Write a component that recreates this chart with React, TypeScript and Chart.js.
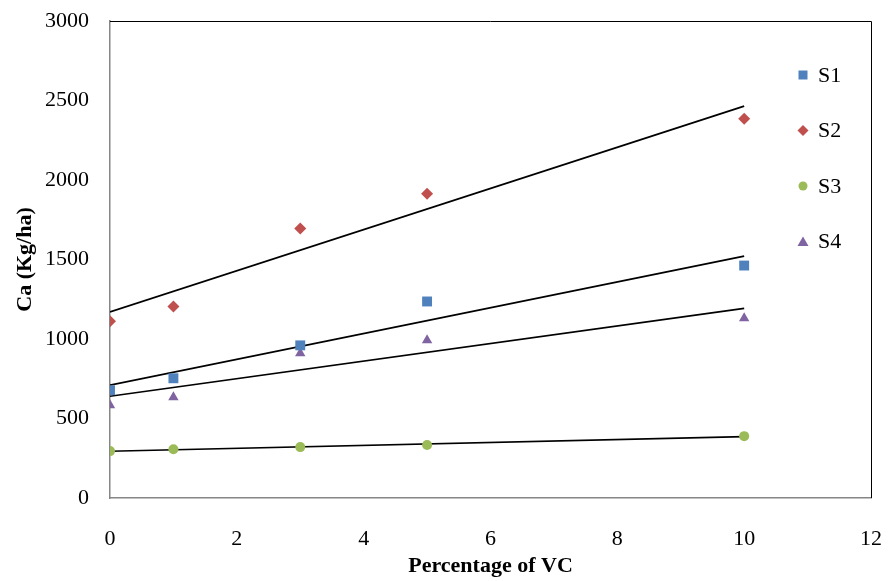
import React, { useEffect, useRef } from "react";
import { Chart, registerables } from "chart.js";

Chart.register(...registerables);

const xValues = [0, 1, 3, 5, 10];
const seriesNames = ["S1", "S2", "S3", "S4"];
const s1 = [678, 753, 960, 1236, 1462];
const s2 = [1111, 1205, 1695, 1914, 2385];
const s3 = [295, 307, 320, 333, 389];
const s4 = [584, 634, 910, 992, 1130];
const yTicks = [0, 500, 1000, 1500, 2000, 2500, 3000];
const xTicks = [0, 2, 4, 6, 8, 10, 12];

const colors = ["#4F81BD", "#C0504D", "#9BBB59", "#8064A2"];
const shapes = ["rect", "rectRot", "circle", "triangle"];
const radii = [7, 6, 5, 6];
const FONT = "'Liberation Serif', 'Times New Roman', serif";

function fit(xs: number[], ys: number[]) {
  const n = xs.length;
  const mx = xs.reduce((a, b) => a + b, 0) / n;
  const my = ys.reduce((a, b) => a + b, 0) / n;
  let sxy = 0, sxx = 0;
  for (let i = 0; i < n; i++) {
    sxy += (xs[i] - mx) * (ys[i] - my);
    sxx += (xs[i] - mx) * (xs[i] - mx);
  }
  const b = sxy / sxx;
  const a = my - b * mx;
  return [
    { x: xs[0], y: a + b * xs[0] },
    { x: xs[n - 1], y: a + b * xs[n - 1] },
  ];
}

const frame = {
  id: "frame",
  afterDatasetsDraw(chart: any) {
    const { ctx, chartArea: c } = chart;
    ctx.save();
    ctx.strokeStyle = "#000";
    ctx.lineWidth = 1;
    ctx.beginPath();
    ctx.moveTo(c.left, c.top + 0.5);
    ctx.lineTo(c.right + 0.5, c.top + 0.5);
    ctx.lineTo(c.right + 0.5, c.bottom);
    ctx.stroke();
    ctx.restore();
  },
  afterDraw(chart: any) {
    const ctx = chart.ctx;
    ctx.save();
    const lx = 803, tx = 818;
    const ys = [75, 130.5, 186, 241.5];
    ctx.font = `22px ${FONT}`;
    ctx.textBaseline = "middle";
    ctx.textAlign = "left";
    seriesNames.forEach((name, i) => {
      const y = ys[i];
      ctx.fillStyle = colors[i];
      ctx.beginPath();
      if (i === 0) ctx.rect(lx - 4.5, y - 4.5, 9, 9);
      else if (i === 1) {
        ctx.moveTo(lx, y - 5.5);
        ctx.lineTo(lx + 5.5, y);
        ctx.lineTo(lx, y + 5.5);
        ctx.lineTo(lx - 5.5, y);
        ctx.closePath();
      } else if (i === 2) ctx.arc(lx, y, 4.5, 0, Math.PI * 2);
      else {
        ctx.moveTo(lx, y - 5);
        ctx.lineTo(lx + 5.5, y + 4.5);
        ctx.lineTo(lx - 5.5, y + 4.5);
        ctx.closePath();
      }
      ctx.fill();
      ctx.fillStyle = "#000";
      ctx.fillText(name, tx, y + 1);
    });
    ctx.restore();
  },
};

export default function App() {
  const ref = useRef<HTMLCanvasElement | null>(null);
  useEffect(() => {
    document.body.style.margin = "0";
    const series = [s1, s2, s3, s4];
    const datasets: any[] = [];
    series.forEach((vals, i) => {
      datasets.push({
        type: "line",
        label: seriesNames[i] + " trend",
        data: fit(xValues, vals),
        borderColor: "#000",
        borderWidth: 1.7,
        pointRadius: 0,
        showLine: true,
        fill: false,
        order: 1,
      });
    });
    series.forEach((vals, i) => {
      datasets.push({
        type: "scatter",
        label: seriesNames[i],
        data: vals.map((v, k) => ({ x: xValues[k], y: v })),
        backgroundColor: colors[i],
        borderColor: colors[i],
        borderWidth: 0,
        pointStyle: shapes[i],
        pointRadius: radii[i],
        order: 0,
      });
    });
    const chart = new Chart(ref.current!, {
      type: "scatter",
      data: { datasets },
      options: {
        animation: false,
        responsive: false,
        layout: { padding: { top: 21, right: 22, left: 0, bottom: 0 } },
        plugins: { legend: { display: false }, tooltip: { enabled: false } },
        scales: {
          x: {
            type: "linear",
            min: 0,
            max: 12,
            afterBuildTicks: (s: any) => {
              s.ticks = xTicks.map((v) => ({ value: v }));
            },
            afterFit: (s: any) => {
              s.height = 83;
              s.paddingLeft = 0;
              s.paddingRight = 0;
            },
            grid: { display: false, drawTicks: false },
            border: { color: "#868686", width: 1.5 },
            ticks: {
              color: "#000",
              font: { family: FONT, size: 22 },
              padding: 28,
              callback: (v: any) => String(v),
            },
            title: {
              display: true,
              text: "Percentage of VC",
              color: "#000",
              font: { family: FONT, size: 22, weight: "bold" },
              padding: { top: 0, bottom: 1 },
            },
          },
          y: {
            type: "linear",
            min: 0,
            max: 3000,
            afterBuildTicks: (s: any) => {
              s.ticks = yTicks.map((v) => ({ value: v }));
            },
            afterFit: (s: any) => {
              s.width = 110;
              s.paddingTop = 0;
              s.paddingBottom = 0;
            },
            grid: { display: false, drawTicks: false },
            border: { color: "#868686", width: 1.5 },
            ticks: {
              color: "#000",
              font: { family: FONT, size: 22 },
              padding: 21,
              callback: (v: any) => String(v),
            },
            title: {
              display: true,
              text: "Ca (Kg/ha)",
              color: "#000",
              font: { family: FONT, size: 22, weight: "bold" },
              padding: { top: 12, bottom: 0 },
            },
          },
        },
      } as any,
      plugins: [frame],
    });
    return () => chart.destroy();
  }, []);
  return <canvas ref={ref} width={893} height={581} style={{ display: "block" }} />;
}
